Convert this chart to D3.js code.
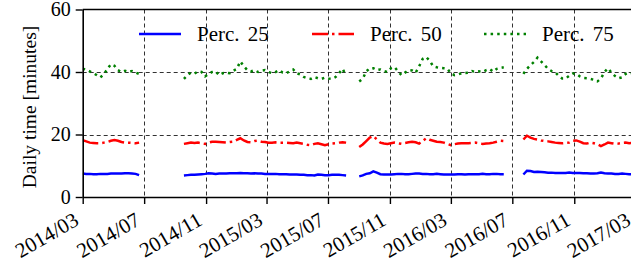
<!DOCTYPE html>
<html>
<head>
<meta charset="utf-8">
<script src="https://cdn.jsdelivr.net/npm/d3@7"></script>
<style>
  body { margin: 0; background: #fff; }
  svg { display: block; }
  text { font-family: 'Liberation Serif', serif; fill: #000; }
</style>
</head>
<body>
<svg width="631" height="268"></svg>
<script>
// weekly samples, one array per recording period
var segStarts = ["2014-03-01", "2014-09-18", "2015-09-01", "2016-07-23"];

var p25 = [
  [7.5,7.4,7.4,7.3,7.3,7.4,7.4,7.4,7.5,7.5,7.5,7.5,7.6,7.6,7.5,7.4,7.0],
  [6.9,7.0,7.1,7.1,7.2,7.3,7.4,7.6,7.5,7.4,7.5,7.5,7.5,7.6,7.6,7.6,7.7,7.6,7.6,7.5,7.6,7.5,7.5,7.4,
   7.4,7.4,7.4,7.3,7.3,7.3,7.2,7.2,7.2,7.1,7.1,7.0,7.0,6.9,7.2,7.1,7.0,7.0,7.1,7.1,7.1,7.0,6.9],
  [6.6,6.9,7.4,7.6,8.2,7.8,7.3,7.2,7.2,7.2,7.3,7.4,7.4,7.3,7.3,7.4,7.5,7.5,7.4,7.4,7.3,
   7.3,7.4,7.3,7.2,7.2,7.2,7.2,7.3,7.3,7.2,7.3,7.3,7.3,7.3,7.4,7.3,7.3,7.4,7.4,7.3,7.3],
  [7.2,8.4,8.3,8.0,8.1,8.0,7.9,7.8,7.8,7.7,7.7,7.7,7.7,7.8,7.7,7.7,
   7.7,7.6,7.6,7.5,7.5,7.6,7.8,7.6,7.5,7.5,7.4,7.4,7.5,7.4,7.3,7.3]
];

var p50 = [
  [18.2,17.8,17.4,17.3,17.2,17.2,17.4,17.6,18.0,18.2,18.0,17.6,17.4,17.4,17.3,17.2,17.4],
  [17.0,17.2,17.4,17.3,17.4,17.2,17.0,17.4,17.7,17.7,17.6,17.5,17.4,17.6,17.7,18.3,18.8,18.1,17.6,17.5,
   17.9,18.0,17.7,17.6,17.4,17.4,17.5,17.4,17.4,17.4,17.3,17.2,17.4,17.2,17.0,16.7,16.6,17.0,17.2,
   16.9,16.6,16.9,17.1,17.2,17.4,17.5,17.4],
  [16.0,16.8,17.9,19.0,19.5,18.4,17.4,17.1,17.0,17.2,17.4,17.2,17.0,17.3,17.5,17.7,17.5,17.1,17.9,18.8,18.3,
   18.0,17.7,17.6,17.4,17.0,16.6,16.9,17.1,17.2,17.2,17.2,17.3,17.4,17.2,17.0,17.1,17.2,17.4,17.7,18.0,17.9],
  [18.4,19.6,19.0,18.6,18.4,18.1,17.9,17.8,17.6,17.4,17.3,17.2,17.3,17.4,18.0,18.1,
   17.7,17.2,17.1,17.4,17.2,16.9,16.3,16.8,17.4,17.2,17.0,17.1,17.3,17.4,17.2,17.3]
];

var p75 = [
  [41.0,40.8,40.2,39.6,39.0,38.3,39.2,41.0,42.5,42.0,40.6,40.0,40.4,40.0,40.3,39.8,39.4],
  [37.8,39.0,39.8,39.5,40.2,40.0,38.6,39.4,40.0,40.2,39.0,39.6,39.8,39.6,40.4,41.0,43.4,41.8,40.6,40.2,
   40.6,40.0,40.4,40.6,40.0,39.6,40.0,40.6,39.8,39.6,40.2,40.8,39.6,39.2,38.4,38.0,37.8,38.4,38.0,
   37.8,38.2,37.9,37.8,38.4,39.6,41.0,38.8],
  [37.0,37.8,40.2,41.2,41.2,40.6,40.8,40.3,40.0,41.2,41.6,40.2,39.0,39.8,40.6,40.5,39.8,41.8,44.2,44.8,43.6,
   41.8,41.5,41.3,41.2,41.1,39.6,39.0,39.2,39.6,39.7,39.8,40.3,40.0,40.2,40.0,40.6,41.0,40.1,41.0,41.3,41.5],
  [39.4,41.0,42.2,43.2,44.6,43.4,42.2,41.0,40.3,39.9,38.8,37.9,37.9,38.8,39.5,39.4,
   38.6,38.1,38.0,37.8,37.5,37.0,37.9,40.0,41.2,39.8,38.7,38.0,38.3,39.4,39.8,39.6]
];

var tickMonths = ["2014-03","2014-07","2014-11","2015-03","2015-07","2015-11",
                  "2016-03","2016-07","2016-11","2017-03"];
var yTicks = [0, 20, 40, 60];
var seriesNames = ["Perc. 25", "Perc. 50", "Perc. 75"];

var colors = ["#0000ff", "#ff0000", "#008000"];
var dashes = [null, "16,4,2.5,4", "2.5,4.1"];

var svg = d3.select("svg"),
    plotL = 82.7, plotR = 634.7, plotT = 9.5, plotB = 197;

var parseDay = d3.utcParse("%Y-%m-%d"),
    parseMonth = d3.utcParse("%Y-%m"),
    fmt = d3.utcFormat("%Y/%m");

var x = d3.scaleUtc()
    .domain([parseMonth("2014-03"), parseMonth("2017-03")])
    .range([plotL, plotR]);

var y = d3.scaleLinear().domain([0, 60]).range([plotB, plotT]);

var tickDates = tickMonths.map(parseMonth);

function toPoints(segs) {
  return segs.map(function(vals, s) {
    var start = parseDay(segStarts[s]);
    return vals.map(function(v, i) { return {date: d3.utcDay.offset(start, 7 * i), value: v}; });
  });
}

svg.append("defs").append("clipPath").attr("id", "clip")
  .append("rect").attr("x", plotL).attr("y", plotT)
  .attr("width", plotR - plotL).attr("height", plotB - plotT);

// grid
var grid = svg.append("g").attr("stroke", "#000").attr("stroke-width", 1)
    .attr("stroke-dasharray", "4,3").attr("opacity", 0.8);
grid.selectAll("line.v")
  .data(tickDates.filter(function(d, i) { return i > 0 && i < tickDates.length - 1; }))
  .enter().append("line")
    .attr("x1", function(d) { return Math.round(x(d)) + 0.5; })
    .attr("x2", function(d) { return Math.round(x(d)) + 0.5; })
    .attr("y1", plotT).attr("y2", plotB);
grid.selectAll("line.h")
  .data([20, 40])
  .enter().append("line")
    .attr("x1", plotL).attr("x2", 631)
    .attr("y1", function(d) { return Math.round(y(d)) + 0.5; })
    .attr("y2", function(d) { return Math.round(y(d)) + 0.5; });

// series
var line = d3.line()
    .x(function(d) { return x(d.date); })
    .y(function(d) { return y(d.value); });

var plot = svg.append("g").attr("clip-path", "url(#clip)");
[p25, p50, p75].forEach(function(segs, k) {
  plot.append("g").selectAll("path")
    .data(toPoints(segs))
    .enter().append("path")
      .attr("d", line)
      .attr("fill", "none")
      .attr("stroke", colors[k])
      .attr("stroke-width", 2.5)
      .attr("stroke-dasharray", dashes[k]);
});

// axes
var yAxis = svg.append("g")
    .attr("transform", "translate(" + plotL + ",0)")
    .call(d3.axisLeft(y).tickValues(yTicks).tickSize(7).tickPadding(5).tickSizeOuter(0));

var xAxis = svg.append("g")
    .attr("transform", "translate(0," + plotB + ")")
    .call(d3.axisBottom(x).tickValues(tickDates).tickFormat(fmt).tickSize(7).tickSizeOuter(0));

[yAxis, xAxis].forEach(function(ax) {
  ax.attr("font-family", null);
  ax.select(".domain").attr("stroke", "#000").attr("stroke-width", 1.6);
  ax.selectAll(".tick line").attr("stroke", "#000").attr("stroke-width", 1.4);
  ax.selectAll("text").style("font-family", "'Liberation Serif', serif").style("font-size", "20px").attr("fill", "#000");
});

xAxis.selectAll(".tick text")
    .style("font-size", "21px")
    .attr("x", 0).attr("y", 0).attr("dy", 0)
    .attr("text-anchor", "end")
    .attr("transform", "translate(-3,27) rotate(-30)");

// top spine
svg.append("line")
    .attr("x1", plotL).attr("x2", 631)
    .attr("y1", plotT).attr("y2", plotT)
    .attr("stroke", "#000").attr("stroke-width", 1.6);

// y label
svg.append("text")
    .attr("transform", "translate(36,107) rotate(-90)")
    .attr("text-anchor", "middle")
    .style("font-size", "19.5px")
    .text("Daily time [minutes]");

// legend
var legendX = [139, 312, 484];
var legend = svg.append("g");
seriesNames.forEach(function(name, k) {
  legend.append("line")
      .attr("x1", legendX[k]).attr("x2", legendX[k] + 42)
      .attr("y1", 34).attr("y2", 34)
      .attr("stroke", colors[k]).attr("stroke-width", 2.5)
      .attr("stroke-dasharray", dashes[k]);
  legend.append("text")
      .attr("x", legendX[k] + 58).attr("y", 41)
      .style("font-size", "21px")
      .style("word-spacing", "3px")
      .text(name);
});
</script>
</body>
</html>
